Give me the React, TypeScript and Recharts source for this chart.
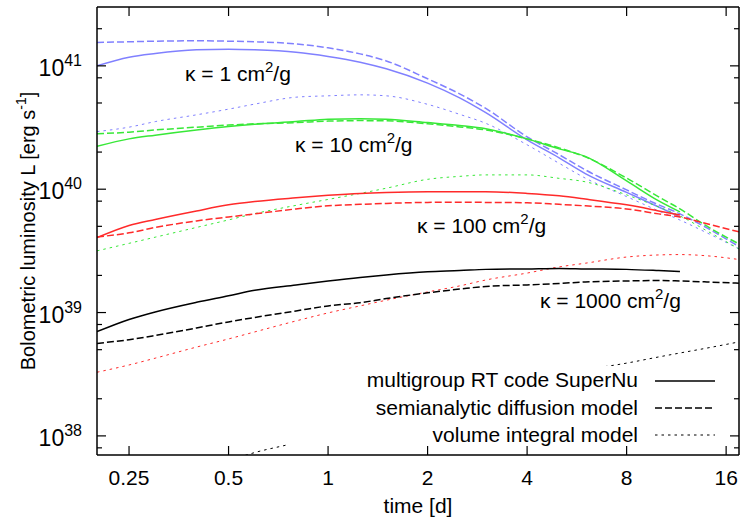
import React from 'react';
import { LineChart, Line, XAxis, YAxis, Legend } from 'recharts';

// time [d]
const days = [0.2, 0.25, 0.3, 0.4, 0.5, 0.6, 0.8, 1, 1.25, 1.5, 2, 2.5, 3, 4, 5, 6, 8, 10, 11.6, 14, 17.5];

// log10 of bolometric luminosity [erg/s] (null = no SuperNu output)
const k1SuperNu = [41.0, 41.07, 41.1, 41.13, 41.135, 41.13, 41.11, 41.076, 41.03, 40.976, 40.86, 40.74, 40.62, 40.4, 40.254, 40.127, 39.974, 39.856, 39.775, null, null];
const k1Diffusion = [41.19, 41.195, 41.2, 41.203, 41.2, 41.195, 41.178, 41.146, 41.097, 41.04, 40.895, 40.773, 40.655, 40.424, 40.28, 40.157, 39.994, 39.873, 39.8, 39.686, 39.535];
const k1Volume = [40.467, 40.503, 40.548, 40.603, 40.649, 40.69, 40.746, 40.757, 40.765, 40.757, 40.688, 40.607, 40.534, 40.36, 40.21, 40.09, 39.94, 39.824, 39.75, 39.646, 39.516];

const k10SuperNu = [40.347, 40.408, 40.438, 40.48, 40.508, 40.527, 40.548, 40.568, 40.572, 40.568, 40.54, 40.516, 40.49, 40.408, 40.327, 40.266, 40.067, 39.905, 39.816, null, null];
const k10Diffusion = [40.45, 40.462, 40.48, 40.503, 40.52, 40.53, 40.54, 40.552, 40.556, 40.554, 40.53, 40.505, 40.48, 40.408, 40.335, 40.262, 40.09, 39.938, 39.84, 39.7, 39.556];
const k10Volume = [39.5, 39.561, 39.611, 39.69, 39.751, 39.802, 39.869, 39.917, 39.966, 40.008, 40.08, 40.104, 40.116, 40.116, 40.088, 40.06, 39.954, 39.856, 39.783, 39.662, 39.516];

const k100SuperNu = [39.607, 39.706, 39.755, 39.824, 39.873, 39.9, 39.93, 39.95, 39.966, 39.974, 39.98, 39.98, 39.98, 39.966, 39.946, 39.92, 39.873, 39.824, 39.79, null, null];
const k100Diffusion = [39.613, 39.646, 39.69, 39.743, 39.775, 39.8, 39.84, 39.865, 39.877, 39.885, 39.893, 39.895, 39.893, 39.89, 39.877, 39.865, 39.84, 39.8, 39.775, 39.72, 39.654];
const k100Volume = [38.516, 38.575, 38.63, 38.72, 38.786, 38.843, 38.932, 38.997, 39.054, 39.1, 39.167, 39.216, 39.264, 39.32, 39.37, 39.4, 39.45, 39.467, 39.47, 39.46, 39.43];

const k1000SuperNu = [38.845, 38.944, 39.005, 39.083, 39.136, 39.181, 39.224, 39.256, 39.285, 39.305, 39.33, 39.34, 39.35, 39.354, 39.358, 39.354, 39.35, 39.34, 39.332, null, null];
const k1000Diffusion = [38.75, 38.78, 38.814, 38.875, 38.924, 38.96, 39.013, 39.054, 39.08, 39.113, 39.16, 39.19, 39.212, 39.224, 39.236, 39.248, 39.256, 39.26, 39.256, 39.248, 39.238];
const k1000Volume = [37.45, 37.53, 37.6, 37.71, 37.8, 37.865, 37.945, 38.02, 38.09, 38.145, 38.23, 38.3, 38.35, 38.435, 38.49, 38.535, 38.59, 38.64, 38.672, 38.712, 38.762];

const xTicks = [0.25, 0.5, 1, 2, 4, 8, 16];
const yTicks = [8e37, 1e38, 2e38, 5e38, 8e38, 1e39, 2e39, 5e39, 8e39, 1e40, 2e40, 5e40, 8e40, 1e41, 2e41];

const legendLabels = ['multigroup RT code SuperNu', 'semianalytic diffusion model', 'volume integral model'];
const kappaLabels = ['1', '10', '100', '1000'];

const BLUE = '#8080ff';
const GREEN = '#38e838';
const RED = '#ff2a2a';
const BLACK = '#000000';
const FONT = '"Liberation Sans", Arial, Helvetica, sans-serif';

type Style = 'solid' | 'dashed' | 'dotted';
const STYLES: Record<Style, { width: number; dash?: string }> = {
  solid: { width: 1.5 },
  dashed: { width: 1.5, dash: '7 3' },
  dotted: { width: 1, dash: '2.5 4' },
};

const series: { key: string; values: (number | null)[]; color: string; style: Style }[] = [
  { key: 'k1_rt', values: k1SuperNu, color: BLUE, style: 'solid' },
  { key: 'k1_diff', values: k1Diffusion, color: BLUE, style: 'dashed' },
  { key: 'k1_vol', values: k1Volume, color: BLUE, style: 'dotted' },
  { key: 'k10_rt', values: k10SuperNu, color: GREEN, style: 'solid' },
  { key: 'k10_diff', values: k10Diffusion, color: GREEN, style: 'dashed' },
  { key: 'k10_vol', values: k10Volume, color: GREEN, style: 'dotted' },
  { key: 'k100_rt', values: k100SuperNu, color: RED, style: 'solid' },
  { key: 'k100_diff', values: k100Diffusion, color: RED, style: 'dashed' },
  { key: 'k100_vol', values: k100Volume, color: RED, style: 'dotted' },
  { key: 'k1000_rt', values: k1000SuperNu, color: BLACK, style: 'solid' },
  { key: 'k1000_diff', values: k1000Diffusion, color: BLACK, style: 'dashed' },
  { key: 'k1000_vol', values: k1000Volume, color: BLACK, style: 'dotted' },
];

const data = days.map((t, i) => {
  const row: Record<string, number | null> = { t };
  series.forEach((s) => {
    const v = s.values[i];
    row[s.key] = v == null ? null : Math.pow(10, v);
  });
  return row;
});

const isDecade = (v: number) => Math.abs(Math.log10(v) - Math.round(Math.log10(v))) < 1e-6;

const BottomTick = (props: any) => {
  const { x, y, payload } = props;
  return (
    <g>
      <line x1={x} y1={y} x2={x} y2={y - 9} stroke="#000" strokeWidth={1.2} />
      <text x={x} y={y + 30} textAnchor="middle" fontSize={21} fontFamily={FONT} fill="#000">
        {payload.value}
      </text>
    </g>
  );
};

const TopTick = (props: any) => {
  const { x, y } = props;
  return <line x1={x} y1={y} x2={x} y2={y + 9} stroke="#000" strokeWidth={1.2} />;
};

const LeftTick = (props: any) => {
  const { x, y, payload } = props;
  const major = isDecade(payload.value);
  return (
    <g>
      <line x1={x} y1={y} x2={x + (major ? 9 : 5)} y2={y} stroke="#000" strokeWidth={1.2} />
      {major && (
        <text x={x - 15} y={y + 10} textAnchor="end" fontSize={23} fontFamily={FONT} fill="#000">
          10
          <tspan dy={-10} fontSize={16}>
            {Math.round(Math.log10(payload.value))}
          </tspan>
        </text>
      )}
    </g>
  );
};

const RightTick = (props: any) => {
  const { x, y, payload } = props;
  const major = isDecade(payload.value);
  return <line x1={x} y1={y} x2={x - (major ? 9 : 5)} y2={y} stroke="#000" strokeWidth={1.2} />;
};

const KeyBox = () => (
  <svg width={438} height={80} style={{ display: 'block', background: '#fff' }}>
    {legendLabels.map((label, i) => {
      const style = STYLES[(['solid', 'dashed', 'dotted'] as Style[])[i]];
      return (
        <g key={label}>
          <text x={351} y={21 + i * 27.5} textAnchor="end" fontSize={21} fontFamily={FONT} fill="#000">
            {label}
          </text>
          <line
            x1={368}
            x2={428}
            y1={15 + i * 27}
            y2={15 + i * 27}
            stroke="#000"
            strokeWidth={style.width}
            strokeDasharray={style.dash}
          />
        </g>
      );
    })}
  </svg>
);

const kappaPos = [
  { x: 185, y: 81 },
  { x: 295, y: 152 },
  { x: 417, y: 233 },
  { x: 540, y: 308 },
];

export default function App() {
  return (
    <div style={{ position: 'absolute', left: 0, top: 0, width: 742, height: 522, background: '#fff' }}>
      <LineChart width={742} height={522} data={data} margin={{ top: 6, right: 2, bottom: 37, left: 37 }}>
        <XAxis
          dataKey="t"
          type="number"
          scale="log"
          domain={[0.2, 17.5]}
          allowDataOverflow
          ticks={xTicks}
          interval={0}
          height={30}
          tickSize={0}
          tickMargin={0}
          tickLine={false}
          axisLine={{ stroke: '#000', strokeWidth: 1.5 }}
          tick={(p: any) => <BottomTick {...p} />}
        />
        <XAxis
          xAxisId="top"
          orientation="top"
          dataKey="t"
          type="number"
          scale="log"
          domain={[0.2, 17.5]}
          allowDataOverflow
          ticks={xTicks}
          interval={0}
          height={1}
          tickSize={0}
          tickMargin={0}
          tickLine={false}
          axisLine={{ stroke: '#000', strokeWidth: 1.5 }}
          tick={(p: any) => <TopTick {...p} />}
        />
        <YAxis
          type="number"
          scale="log"
          domain={[7e37, 3e41]}
          allowDataOverflow
          ticks={yTicks}
          interval={0}
          width={60}
          tickSize={0}
          tickMargin={0}
          tickLine={false}
          axisLine={{ stroke: '#000', strokeWidth: 1.5 }}
          tick={(p: any) => <LeftTick {...p} />}
        />
        <YAxis
          yAxisId="right"
          orientation="right"
          type="number"
          scale="log"
          domain={[7e37, 3e41]}
          allowDataOverflow
          ticks={yTicks}
          interval={0}
          width={1}
          tickSize={0}
          tickMargin={0}
          tickLine={false}
          axisLine={{ stroke: '#000', strokeWidth: 1.5 }}
          tick={(p: any) => <RightTick {...p} />}
        />
        {series.map((s) => (
          <Line
            key={s.key}
            dataKey={s.key}
            type="monotone"
            stroke={s.color}
            strokeWidth={STYLES[s.style].width}
            strokeDasharray={STYLES[s.style].dash}
            dot={false}
            activeDot={false}
            connectNulls={false}
            isAnimationActive={false}
          />
        ))}
        {/* invisible copy so the mirrored top/right axes get drawn */}
        <Line
          xAxisId="top"
          yAxisId="right"
          dataKey="k1000_diff"
          stroke="none"
          dot={false}
          activeDot={false}
          legendType="none"
          isAnimationActive={false}
        />
        <Legend
          layout="vertical"
          align="center"
          verticalAlign="middle"
          wrapperStyle={{ left: 287, top: 366, width: 438, height: 80 }}
          content={() => <KeyBox />}
        />
      </LineChart>
      <svg
        width={742}
        height={522}
        style={{ position: 'absolute', left: 0, top: 0, pointerEvents: 'none' }}
        fontFamily={FONT}
        fontSize={21}
      >
        {kappaLabels.map((k, i) => (
          <text key={k} x={kappaPos[i].x} y={kappaPos[i].y} fill="#000">
            {'\u03ba = ' + k + ' cm'}
            <tspan dy={-9} fontSize={15}>2</tspan>
            <tspan dy={9}>/g</tspan>
          </text>
        ))}
        <text x={418} y={513} textAnchor="middle" fill="#000">
          time [d]
        </text>
        <text transform="translate(35,231) rotate(-90)" textAnchor="middle" fill="#000" fontSize={20}>
          Bolometric luminosity L [erg s
          <tspan dy={-9} fontSize={14}>-1</tspan>
          <tspan dy={9}>]</tspan>
        </text>
      </svg>
    </div>
  );
}
